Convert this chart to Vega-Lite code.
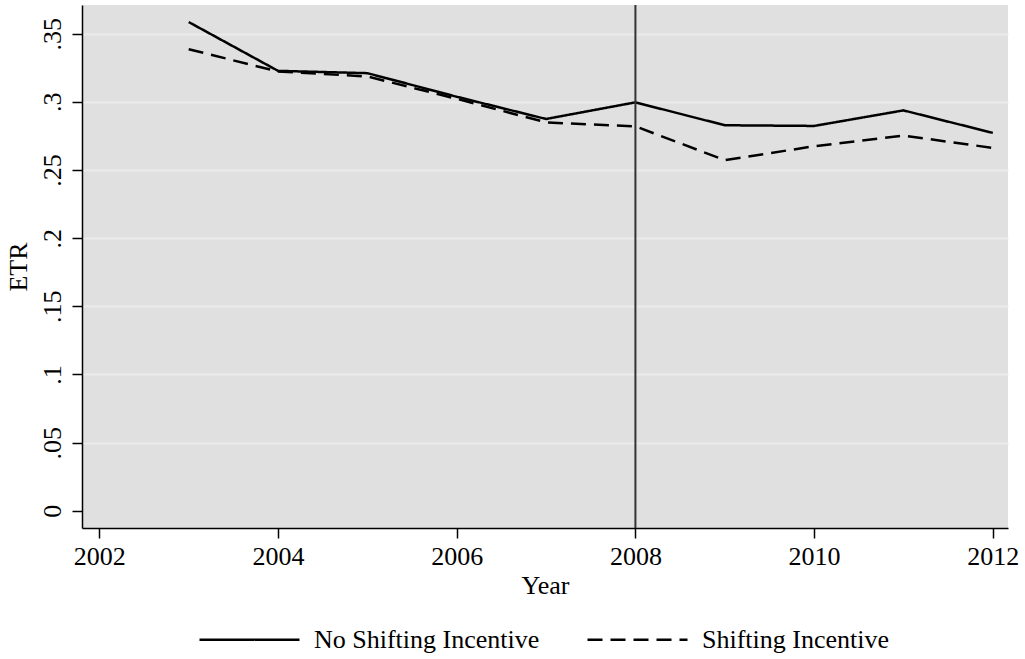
{
  "$schema": "https://vega.github.io/schema/vega-lite/v6.json",
  "width": 926,
  "height": 523,
  "autosize": {"type": "none"},
  "padding": {"left": 82, "top": 5, "right": 17, "bottom": 131},
  "background": "white",
  "config": {
    "view": {"fill": "#e0e0e0", "stroke": null},
    "font": "Liberation Serif",
    "axis": {
      "domainColor": "black",
      "domainWidth": 1.5,
      "tickColor": "black",
      "tickWidth": 1.5,
      "tickSize": 10,
      "labelFont": "Liberation Serif",
      "labelFontSize": 26,
      "labelColor": "black",
      "titleFont": "Liberation Serif",
      "titleFontSize": 26,
      "titleFontWeight": "normal",
      "titleColor": "black"
    },
    "legend": {
      "labelFont": "Liberation Serif",
      "labelFontSize": 26,
      "labelColor": "black",
      "labelLimit": 500
    }
  },
  "layer": [
    {
      "data": {
        "values": [
          {"year": 2003, "etr": 0.3585, "series": "No Shifting Incentive"},
          {"year": 2004, "etr": 0.3227, "series": "No Shifting Incentive"},
          {"year": 2005, "etr": 0.3210, "series": "No Shifting Incentive"},
          {"year": 2006, "etr": 0.3037, "series": "No Shifting Incentive"},
          {"year": 2007, "etr": 0.2874, "series": "No Shifting Incentive"},
          {"year": 2008, "etr": 0.2996, "series": "No Shifting Incentive"},
          {"year": 2009, "etr": 0.2828, "series": "No Shifting Incentive"},
          {"year": 2010, "etr": 0.2823, "series": "No Shifting Incentive"},
          {"year": 2011, "etr": 0.2937, "series": "No Shifting Incentive"},
          {"year": 2012, "etr": 0.2772, "series": "No Shifting Incentive"},
          {"year": 2003, "etr": 0.3386, "series": "Shifting Incentive"},
          {"year": 2004, "etr": 0.3222, "series": "Shifting Incentive"},
          {"year": 2005, "etr": 0.3186, "series": "Shifting Incentive"},
          {"year": 2006, "etr": 0.3022, "series": "Shifting Incentive"},
          {"year": 2007, "etr": 0.2849, "series": "Shifting Incentive"},
          {"year": 2008, "etr": 0.2820, "series": "Shifting Incentive"},
          {"year": 2009, "etr": 0.2572, "series": "Shifting Incentive"},
          {"year": 2010, "etr": 0.2674, "series": "Shifting Incentive"},
          {"year": 2011, "etr": 0.2752, "series": "Shifting Incentive"},
          {"year": 2012, "etr": 0.2662, "series": "Shifting Incentive"}
        ]
      },
      "mark": {"type": "line", "color": "black", "strokeWidth": 2.5},
      "encoding": {
        "x": {
          "field": "year",
          "type": "quantitative",
          "scale": {"domain": [2001.806, 2012.17], "nice": false, "zero": false},
          "axis": {
            "title": "Year",
            "values": [2002, 2004, 2006, 2008, 2010, 2012],
            "format": "d",
            "grid": false,
            "labelPadding": 5,
            "titlePadding": 3
          }
        },
        "y": {
          "field": "etr",
          "type": "quantitative",
          "scale": {"domain": [-0.0126, 0.371], "nice": false, "zero": false},
          "axis": {
            "title": "ETR",
            "values": [0, 0.05, 0.1, 0.15, 0.2, 0.25, 0.3, 0.35],
            "labelExpr": "datum.value == 0 ? '0' : substring(format(datum.value, '.2~f'), 1)",
            "labelAngle": 270,
            "labelAlign": "center",
            "labelBaseline": "bottom",
            "labelPadding": 7,
            "titlePadding": 8,
            "grid": true,
            "gridColor": {"condition": {"test": "datum.value == 0", "value": "transparent"}, "value": "#ebebeb"},
            "gridWidth": 2
          }
        },
        "strokeDash": {
          "field": "series",
          "type": "nominal",
          "scale": {
            "domain": ["No Shifting Incentive", "Shifting Incentive"],
            "range": [[1, 0], [15, 8]]
          },
          "legend": {
            "title": null,
            "orient": "none",
            "direction": "horizontal",
            "legendX": 116,
            "legendY": 583,
            "padding": 0,
            "symbolType": "stroke",
            "symbolSize": 10000,
            "symbolStrokeWidth": 2.5,
            "symbolStrokeColor": "black",
            "labelOffset": 13,
            "columnPadding": 42,
            "labelBaseline": "middle"
          }
        }
      }
    },
    {
      "data": {"values": [{"year": 2008}]},
      "mark": {"type": "rule", "color": "#333333", "strokeWidth": 2},
      "encoding": {
        "x": {"field": "year", "type": "quantitative"}
      }
    }
  ]
}
